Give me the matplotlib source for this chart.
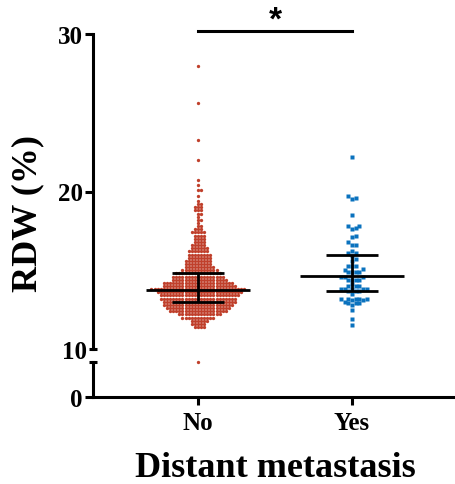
import numpy as np
import matplotlib
matplotlib.use("Agg")
import matplotlib.pyplot as plt

plt.rcParams["font.family"] = ["Liberation Serif", "DejaVu Serif"]
plt.rcParams["font.weight"] = "bold"

groups = ["No", "Yes"]

# RDW rows for the "No" group: value and number of patients in that row
no_values = [9.2, 11.4, 11.6, 11.8, 12.0, 12.2, 12.4, 12.6, 12.8, 13.0, 13.2, 13.4,
             13.6, 13.8, 14.0, 14.2, 14.4, 14.6, 14.8, 15.0, 15.2, 15.4, 15.6, 15.8,
             16.0, 16.2, 16.4, 16.6, 16.8, 17.0, 17.2, 17.4, 17.6, 17.8, 18.0, 18.2,
             18.4, 18.6, 18.8, 19.0, 19.2, 19.4, 19.7, 20.1, 20.4, 20.7, 22.0, 23.3,
             25.6, 28.0]
no_counts = [1, 4, 5, 6, 11, 14, 19, 21, 23, 24, 25, 26,
             28, 31, 24, 23, 18, 17, 15, 12, 10, 9, 9, 8,
             8, 7, 6, 5, 4, 4, 4, 5, 3, 2, 1, 2,
             1, 2, 3, 3, 2, 1, 1, 2, 1, 1, 1, 1,
             1, 1]

yes_values = [22.2, 19.7, 19.6, 19.5, 18.5, 17.8, 17.8, 17.7, 17.6, 17.2, 17.1, 16.8,
              16.6, 16.6, 16.2, 16.1, 16.1, 15.9, 15.7, 15.6, 15.3, 15.3, 15.3,
              15.1, 15.0, 14.9, 14.9, 14.9, 14.9, 14.6, 14.6, 14.6,
              14.4, 14.4, 14.4, 14.4, 14.1, 14.0, 14.0, 14.0,
              13.8, 13.8, 13.8, 13.8, 13.8, 13.7, 13.7, 13.7, 13.5,
              13.2, 13.2, 13.2, 13.2, 13.2, 13.1, 13.1, 13.0, 12.9, 12.9, 12.9,
              12.8, 12.5, 11.9, 11.5]

# median and interquartile range
medians = [13.77, 14.61]
q1 = [12.98, 13.70]
q3 = [14.83, 15.95]

colors = ["#C0402C", "#0A72BE"]

W, H = 456, 485
fig = plt.figure(figsize=(W / 100, H / 100), dpi=100)
left = 93 / W
ax = fig.add_axes([left, 1 - 350 / H, 1 - left, (350 - 35) / H])
axb = fig.add_axes([left, 1 - 398 / H, 1 - left, (398 - 363) / H])

xlim = (-(198 - 93) / 154, (456 - 198) / 154)
px_x = 154.0
px_y = 315 / 20.0


def swarm(vals, step):
    vals = np.asarray(vals, float)
    xs = np.zeros(len(vals))
    px, py = [], []
    for i in np.argsort(vals, kind="stable"):
        y = vals[i] * px_y
        k = 0
        while True:
            cands = [0.0] if k == 0 else [k * step, -k * step]
            done = False
            for c in cands:
                if not px:
                    ok = True
                else:
                    d2 = (np.array(px) - c) ** 2 + (np.array(py) - y) ** 2
                    ok = np.all(d2 >= (step * 0.999) ** 2)
                if ok:
                    xs[i] = c
                    px.append(c)
                    py.append(y)
                    done = True
                    break
            if done:
                break
            k += 1
    return xs / px_x


no_all = np.repeat(no_values, no_counts)
yes_all = np.array(yes_values)
off_no = swarm(no_all, 3.1)
off_yes = swarm(yes_all, 3.7)

ax.plot(0 + off_no, no_all, "o", ms=2.4, color=colors[0], mec="none", clip_on=False, zorder=2)
ax.plot(1 + off_yes, yes_all, "s", ms=2.3, color=colors[1], mec="none", clip_on=False, zorder=2)

for i in range(2):
    ax.hlines(medians[i], i - 0.338, i + 0.338, color="black", lw=2.0, zorder=3)
    ax.hlines([q1[i], q3[i]], i - 0.166, i + 0.166, color="black", lw=2.0, zorder=3)
    ax.vlines(i, q1[i], q3[i], color="black", lw=2.0, zorder=3)

# significance bar
ax.plot([0, 1], [30.2, 30.2], color="black", lw=2.2, clip_on=False)
ax.text(0.5, 30.35, "*", ha="center", va="baseline", fontsize=24,
        family=["Liberation Sans", "DejaVu Sans"], fontweight="bold")

ax.set_xlim(*xlim)
ax.set_ylim(10, 30)
ax.set_yticks([20, 30])
ax.set_yticks([10], ["10"], minor=True)
for s in ["top", "right", "bottom"]:
    ax.spines[s].set_visible(False)
ax.spines["left"].set_linewidth(2.2)
ax.tick_params(axis="x", bottom=False, labelbottom=False)
ax.tick_params(axis="y", which="major", direction="out", length=6, width=2.2,
               labelsize=18, pad=1.5)
ax.tick_params(axis="y", which="minor", direction="inout", length=6, width=2.2,
               labelsize=18, pad=1.5)

axb.set_xlim(*xlim)
axb.set_ylim(0, 1)
axb.set_yticks([0])
axb.set_yticks([1], [""], minor=True)
axb.set_xticks([0, 1], groups)
for s in ["top", "right"]:
    axb.spines[s].set_visible(False)
for s in ["left", "bottom"]:
    axb.spines[s].set_linewidth(2.2)
axb.tick_params(axis="y", which="major", direction="out", length=6, width=2.2,
                labelsize=18, pad=1.5)
axb.tick_params(axis="y", which="minor", direction="inout", length=6, width=2.2)
axb.tick_params(axis="x", direction="out", length=6, width=2.2, labelsize=18, pad=4)
axb.patch.set_visible(False)

fig.text(28 / W, 1 - 214 / H, "RDW (%)", rotation=90, ha="center", va="center",
         fontsize=26, fontweight="bold")
fig.text(275 / W, 1 - 477 / H, "Distant metastasis", ha="center", va="baseline",
         fontsize=26, fontweight="bold")

fig.savefig("out.png", dpi=100)
